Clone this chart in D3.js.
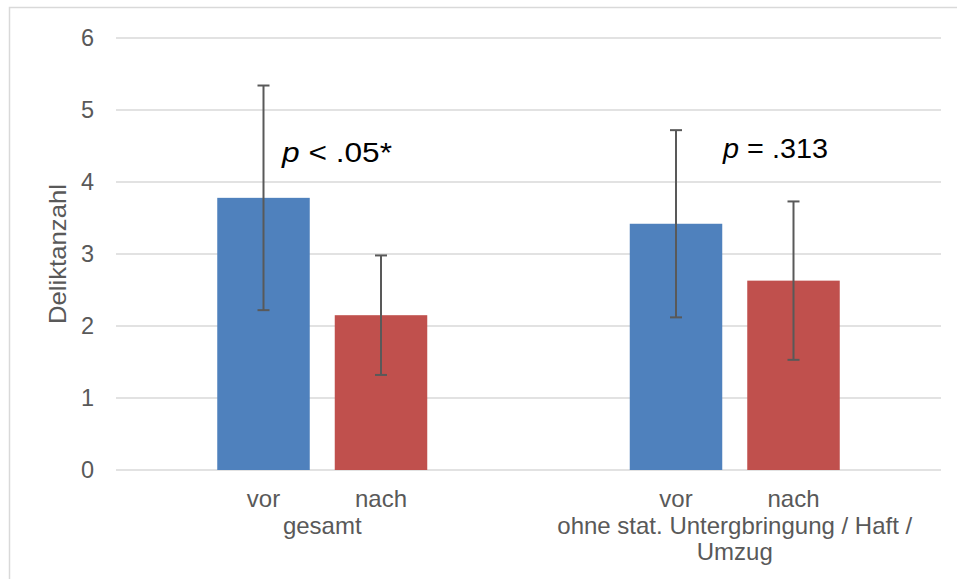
<!DOCTYPE html>
<html><head><meta charset="utf-8">
<script src="https://cdn.jsdelivr.net/npm/d3@7"></script>
<style>body{margin:0;background:#fff;} svg{display:block;font-family:"Liberation Sans",Arial,sans-serif;}</style>
</head><body>
<svg id="c" width="957" height="579"></svg>
<script>
const groups = ["gesamt", "ohne stat. Untergbringung / Haft / Umzug"];
const groupLines = [["gesamt"], ["ohne stat. Untergbringung / Haft /", "Umzug"]];
const series = ["vor", "nach"];
const means = [[3.78, 2.15], [3.42, 2.63]];
const errors = [[1.56, 0.83], [1.30, 1.10]];
const pLabels = [["p", " < .05*"], ["p", " = .313"]];
const yTicks = [0, 1, 2, 3, 4, 5, 6];
const colors = ["#4F81BD", "#C0504D"];

const svg = d3.select("#c");
svg.append("rect").attr("x", 9.5).attr("y", 7.5).attr("width", 960).attr("height", 600)
  .attr("fill", "none").attr("stroke", "#d9d9d9").attr("stroke-width", 1.5);

const L = 116, R = 941, T = 38, B = 470;
const y = d3.scaleLinear().domain([0, 6]).range([B, T]);
const x0 = d3.scaleBand().domain(groups).range([L, R]).paddingInner(0).paddingOuter(0);
const half = 105;
const x1 = d3.scaleBand().domain(series).range([x0.bandwidth()/2 - half, x0.bandwidth()/2 + half])
  .paddingInner(25/117.5).paddingOuter(0);

// grid
svg.append("g").selectAll("line").data(yTicks).join("line")
  .attr("x1", L).attr("x2", R).attr("y1", d => y(d)).attr("y2", d => y(d))
  .attr("stroke", "#d9d9d9").attr("stroke-width", 1.5);

// y axis
const ya = svg.append("g").attr("transform", `translate(${L},0)`)
  .call(d3.axisLeft(y).tickValues(yTicks).tickSize(0).tickPadding(22).tickFormat(d3.format("d")));
ya.select(".domain").remove();
ya.selectAll("text").attr("font-size", 23.5).attr("fill", "#595959").attr("font-family", "Liberation Sans, Arial, sans-serif");

svg.append("text").attr("transform", `translate(66,${(T+B)/2}) rotate(-90)`)
  .attr("text-anchor", "middle").attr("font-size", 24).attr("fill", "#595959")
  .attr("textLength", 140).attr("lengthAdjust", "spacingAndGlyphs").text("Deliktanzahl");

// bars
const gg = svg.append("g").selectAll("g").data(groups).join("g")
  .attr("transform", d => `translate(${x0(d)},0)`);
gg.each(function(g, gi) {
  const sel = d3.select(this);
  series.forEach((s, si) => {
    const v = means[gi][si], e = errors[gi][si];
    const bx = x1(s), bw = x1.bandwidth();
    sel.append("rect").attr("x", bx).attr("y", y(v)).attr("width", bw).attr("height", y(0) - y(v))
      .attr("fill", colors[si]);
    const cx = bx + bw/2;
    sel.append("line").attr("x1", cx).attr("x2", cx).attr("y1", y(v+e)).attr("y2", y(v-e))
      .attr("stroke", "#595959").attr("stroke-width", 2);
    [v+e, v-e].forEach(val => sel.append("line").attr("x1", cx-6).attr("x2", cx+6)
      .attr("y1", y(val)).attr("y2", y(val)).attr("stroke", "#595959").attr("stroke-width", 2));
    sel.append("text").attr("x", cx).attr("y", 507).attr("text-anchor", "middle")
      .attr("font-size", 24).attr("fill", "#595959").text(s);
  });
  groupLines[gi].forEach((ln, li) => {
    sel.append("text").attr("x", x0.bandwidth()/2).attr("y", 534 + li*26).attr("text-anchor", "middle")
      .attr("font-size", 24).attr("fill", "#595959").text(ln);
  });
});

// p labels
const pPos = [[282, 162, 110], [723, 158, 105]];
pLabels.forEach((p, i) => {
  const t = svg.append("text").attr("x", pPos[i][0]).attr("y", pPos[i][1]).attr("font-size", 27).attr("fill", "#000")
    .attr("textLength", pPos[i][2]).attr("lengthAdjust", "spacingAndGlyphs");
  t.append("tspan").attr("font-style", "italic").text(p[0]);
  t.append("tspan").text(p[1]);
});
</script>
</body></html>
